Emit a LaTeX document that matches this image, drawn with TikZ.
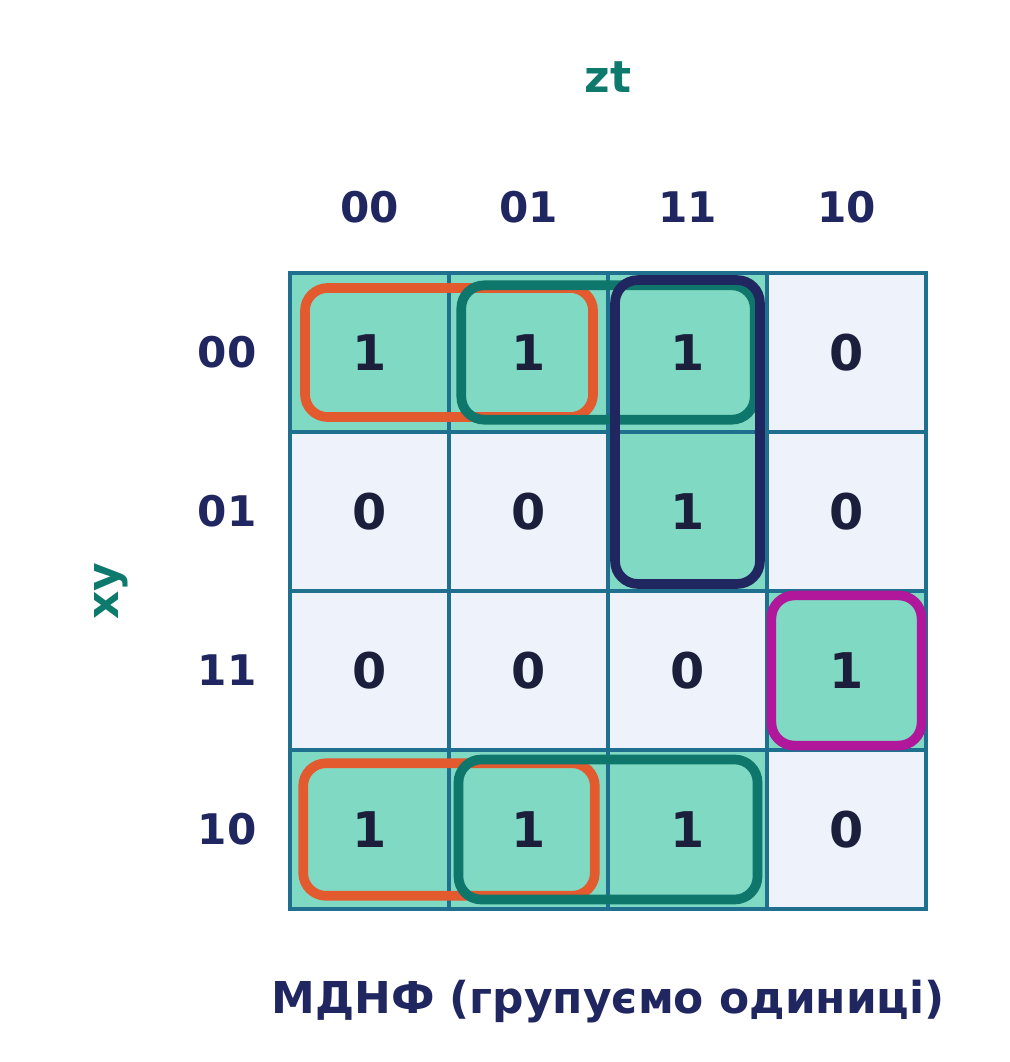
\documentclass[tikz,border=0pt]{standalone}
\usepackage{fontspec}
\setmainfont{DejaVu Sans}
\usepackage{xcolor}
\usetikzlibrary{fit}

\definecolor{gridline}{HTML}{1F6F8F}
\definecolor{cellgreen}{HTML}{80D9C2}
\definecolor{cellgray}{HTML}{EEF2FA}
\definecolor{digit}{HTML}{1B1F3B}
\definecolor{labelnavy}{HTML}{1F2660}
\definecolor{axisteal}{HTML}{0E7A6E}
\definecolor{grouporange}{HTML}{E35A2F}
\definecolor{groupteal}{HTML}{0E766A}
\definecolor{groupnavy}{HTML}{1F2660}
\definecolor{groupmagenta}{HTML}{B0179B}

\begin{document}
\begin{tikzpicture}[x=0.02cm, y=-0.02cm,
    cell/.style={draw=gridline, line width=2.4pt, minimum size=3.18cm, inner sep=0pt, outer sep=0pt,
                 font=\fontsize{28}{30}\selectfont\bfseries, text=digit},
    one/.style={cell, fill=cellgreen},
    zero/.style={cell, fill=cellgray},
    lbl/.style={font=\fontsize{24}{28}\selectfont\bfseries, text=labelnavy},
    axis/.style={font=\fontsize{25}{28}\selectfont\bfseries, text=axisteal},
    group/.style={draw, line width=5.5pt, rounded corners=13pt, inner sep=#1}]
    \useasboundingbox (0,0) rectangle (1009,1062);

    \node[axis] (zt) at (608, 77) {zt};
    \node[axis, rotate=90] (xy) at (111, 591) {xy};

    \node[lbl] (col00) at (369.5, 207) {00};
    \node[lbl] (col01) at (528.5, 207) {01};
    \node[lbl] (col11) at (687.5, 207) {11};
    \node[lbl] (col10) at (846.5, 207) {10};

    \node[lbl] (row00) at (227, 352.5) {00};
    \node[lbl] (row01) at (227, 511.5) {01};
    \node[lbl] (row11) at (227, 670.5) {11};
    \node[lbl] (row10) at (227, 829.5) {10};

    % row 00
    \node[one]  (c00) at (369.5, 352.5) {1};
    \node[one]  (c01) at (528.5, 352.5) {1};
    \node[one]  (c02) at (687.5, 352.5) {1};
    \node[zero] (c03) at (846.5, 352.5) {0};
    % row 01
    \node[zero] (c10) at (369.5, 511.5) {0};
    \node[zero] (c11) at (528.5, 511.5) {0};
    \node[one]  (c12) at (687.5, 511.5) {1};
    \node[zero] (c13) at (846.5, 511.5) {0};
    % row 11
    \node[zero] (c20) at (369.5, 670.5) {0};
    \node[zero] (c21) at (528.5, 670.5) {0};
    \node[zero] (c22) at (687.5, 670.5) {0};
    \node[one]  (c23) at (846.5, 670.5) {1};
    % row 10
    \node[one]  (c30) at (369.5, 829.5) {1};
    \node[one]  (c31) at (528.5, 829.5) {1};
    \node[one]  (c32) at (687.5, 829.5) {1};
    \node[zero] (c33) at (846.5, 829.5) {0};

    \node[group=-8.5pt, draw=grouporange, fit={(c00) (c01)}] (g1top) {};
    \node[group=-7.5pt, draw=grouporange, fit={(c30) (c31)}] (g1bot) {};
    \node[group=-7pt, draw=groupteal, fit={(c01) (c02)}] (g2top) {};
    \node[group=-5.4pt, draw=groupteal, fit={(c31) (c32)}] (g2bot) {};
    \node[group=-4pt, draw=groupnavy, fit={(c02) (c12)}] (g3) {};
    \node[group=-2.5pt, draw=groupmagenta, fit={(c23)}] (g4) {};

    \node[anchor=base, font=\fontsize{25}{28}\selectfont\bfseries, text=labelnavy] (title) at (608, 1013) {МДНФ (групуємо одиниці)};
\end{tikzpicture}
\end{document}
